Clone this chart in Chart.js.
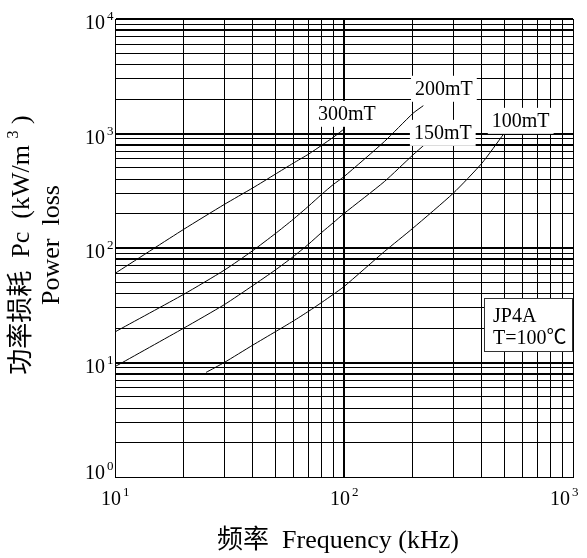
<!DOCTYPE html>
<html>
<head>
<meta charset="utf-8">
<script src="https://cdn.jsdelivr.net/npm/chart.js@4.4.1/dist/chart.umd.min.js"></script>
<style>
  html, body { margin: 0; padding: 0; background: #fff; }
  #wrap { width: 587px; height: 558px; }
</style>
</head>
<body>
<div id="wrap"><canvas id="loss-chart" width="587" height="558"></canvas></div>
<script>
// JP4A core loss vs. frequency, 100°C, log-log grid

// curve data: frequency (kHz) / power loss (kW/m3)
const freq300 = [10, 20, 30, 40, 50, 60, 70, 80, 90, 101];
const loss300 = [60, 146, 240, 335, 440, 550, 660, 790, 930, 1110];

const freq200 = [10, 20, 30, 40, 50, 60, 70, 80, 90, 100, 150, 200, 222];
const loss200 = [18.5, 39.5, 64, 95, 133, 178, 232, 295, 360, 420, 850, 1500, 1750];

const freq150 = [10, 20, 30, 40, 50, 60, 70, 80, 90, 100, 150, 200, 225];
const loss150 = [9.2, 20, 32, 47, 64, 84, 108, 137, 167, 200, 380, 650, 800];

const freq100 = [25, 30, 40, 50, 60, 70, 80, 90, 100, 150, 200, 300, 400, 498];
const loss100 = [8.2, 10, 14.2, 18.5, 23, 28, 33.5, 39.5, 46, 93, 149, 301, 550, 990];

const curveNames = ['300mT', '200mT', '150mT', '100mT'];

// axis decades (exponents of 10)
const xTickExps = [1, 2, 3];
const yTickExps = [0, 1, 2, 3, 4];

// where each curve name sits (in data units)
const nameSpots = [
  { f: 103, p: 1486 },
  { f: 273, p: 2458 },
  { f: 270, p: 1013 },
  { f: 591, p: 1290 }
];

const FONT = '"Liberation Serif", "Times New Roman", "Noto Sans CJK SC", serif';

// 1..9 x 10^n grid values for a range of decades
function logGrid(fromExp, toExp) {
  const out = [];
  for (let e = fromExp; e < toExp; e++) {
    for (let s = 1; s < 10; s++) out.push(s * Math.pow(10, e));
  }
  out.push(Math.pow(10, toExp));
  return out;
}

function significand(v) {
  const e = Math.floor(Math.log10(v) + 1e-9);
  return Math.round(v / Math.pow(10, e));
}

const toPoints = (fs, ps) => fs.map((f, i) => ({ x: f, y: ps[i] }));

// "10" with a raised exponent; x is the left edge of "10"
function drawPow(ctx, x, base, exp, size) {
  ctx.font = size + 'px ' + FONT;
  ctx.textAlign = 'left';
  ctx.fillText('10', x, base);
  const w = ctx.measureText('10').width;
  ctx.font = Math.round(size * 0.65) + 'px ' + FONT;
  ctx.fillText(String(exp), x + w + 2, base - 9);
}

const annotate = {
  id: 'annotate',
  afterDatasetsDraw(chart) {
    const { ctx, scales: { x, y } } = chart;
    ctx.save();
    ctx.font = '20px ' + FONT;
    ctx.textBaseline = 'middle';
    ctx.textAlign = 'center';
    curveNames.forEach((name, i) => {
      const cx = x.getPixelForValue(nameSpots[i].f);
      const cy = y.getPixelForValue(nameSpots[i].p);
      const w = ctx.measureText(name).width + 8;
      ctx.fillStyle = '#fff';
      ctx.fillRect(cx - w / 2, cy - 13, w, 26);
      ctx.fillStyle = '#000';
      ctx.fillText(name, cx, cy + 1);
    });
    ctx.restore();
  },
  afterDraw(chart) {
    const { ctx, chartArea: area, scales: { x, y } } = chart;
    ctx.save();
    ctx.fillStyle = '#000';
    ctx.textBaseline = 'alphabetic';

    // y tick labels
    yTickExps.forEach(e => {
      const py = y.getPixelForValue(Math.pow(10, e));
      const base = Math.min(py + 10, area.bottom + 2);
      ctx.font = '20px ' + FONT;
      const w = ctx.measureText('10').width;
      drawPow(ctx, area.left - 10 - w, base, e, 20);
    });

    // x tick labels, kept inside the canvas on the right
    xTickExps.forEach(e => {
      const px = x.getPixelForValue(Math.pow(10, e));
      ctx.font = '20px ' + FONT;
      const w = ctx.measureText('10').width;
      const left = Math.min(px - 4 - w / 2, chart.width - 8 - w - 9);
      drawPow(ctx, left, area.bottom + 28, e, 20);
    });

    // x title
    ctx.font = '26px ' + FONT;
    ctx.textAlign = 'center';
    ctx.fillText('频率  Frequency (kHz)', 338, area.bottom + 71);

    // y title, two rotated lines
    ctx.save();
    ctx.translate(29, 245);
    ctx.rotate(-Math.PI / 2);
    const head = '功率损耗  Pc  (kW/m ';
    const tail = ' )';
    ctx.font = '26px ' + FONT;
    const wHead = ctx.measureText(head).width;
    const wTail = ctx.measureText(tail).width;
    ctx.font = '16px ' + FONT;
    const wSup = ctx.measureText('3').width;
    let tx = -(wHead + wSup + wTail) / 2;
    ctx.textAlign = 'left';
    ctx.font = '26px ' + FONT;
    ctx.fillText(head, tx, 0);
    tx += wHead;
    ctx.font = '16px ' + FONT;
    ctx.fillText('3', tx, -11);
    tx += wSup;
    ctx.font = '26px ' + FONT;
    ctx.fillText(tail, tx, 0);
    ctx.textAlign = 'center';
    ctx.fillText('Power  loss', 0, 30);
    ctx.restore();

    // material / temperature box
    const bx = area.right - 89, by = area.top + 279;
    ctx.fillStyle = '#fff';
    ctx.fillRect(bx, by, 89, 54);
    ctx.strokeStyle = '#333';
    ctx.lineWidth = 1;
    ctx.strokeRect(bx + 0.5, by + 0.5, 88, 53);
    ctx.fillStyle = '#000';
    ctx.font = '20px ' + FONT;
    ctx.textAlign = 'left';
    ctx.fillText('JP4A', bx + 9, by + 24);
    ctx.fillText('T=100℃', bx + 9, by + 46);
    ctx.restore();
  }
};

const curves = [
  toPoints(freq300, loss300),
  toPoints(freq200, loss200),
  toPoints(freq150, loss150),
  toPoints(freq100, loss100)
];

new Chart(document.getElementById('loss-chart'), {
  type: 'scatter',
  data: {
    datasets: curves.map((pts, i) => ({
      label: curveNames[i],
      data: pts,
      showLine: true,
      borderColor: '#000',
      borderWidth: 1,
      pointRadius: 0,
      tension: 0.2,
      fill: false
    }))
  },
  options: {
    responsive: false,
    animation: false,
    devicePixelRatio: 1,
    layout: { padding: { left: 115, top: 19, right: 14, bottom: 81 } },
    plugins: { legend: { display: false }, tooltip: { enabled: false } },
    scales: {
      x: {
        type: 'logarithmic',
        min: 10,
        max: 1000,
        afterBuildTicks: axis => { axis.ticks = logGrid(1, 3).map(v => ({ value: v })); },
        ticks: { display: false },
        grid: {
          color: '#000',
          drawTicks: false,
          lineWidth: c => (c.tick && c.tick.value === 100 ? 2 : 1)
        },
        border: { color: '#000', width: 1 }
      },
      y: {
        type: 'logarithmic',
        min: 1,
        max: 10000,
        afterBuildTicks: axis => { axis.ticks = logGrid(0, 4).map(v => ({ value: v })); },
        ticks: { display: false },
        grid: {
          color: '#000',
          drawTicks: false,
          lineWidth: c => {
            if (!c.tick) return 1;
            const s = significand(c.tick.value);
            return (s === 1 || s === 8) && c.tick.value > 1 ? 2 : 1;
          }
        },
        border: { color: '#000', width: 1 }
      }
    }
  },
  plugins: [annotate]
});
</script>
</body>
</html>
